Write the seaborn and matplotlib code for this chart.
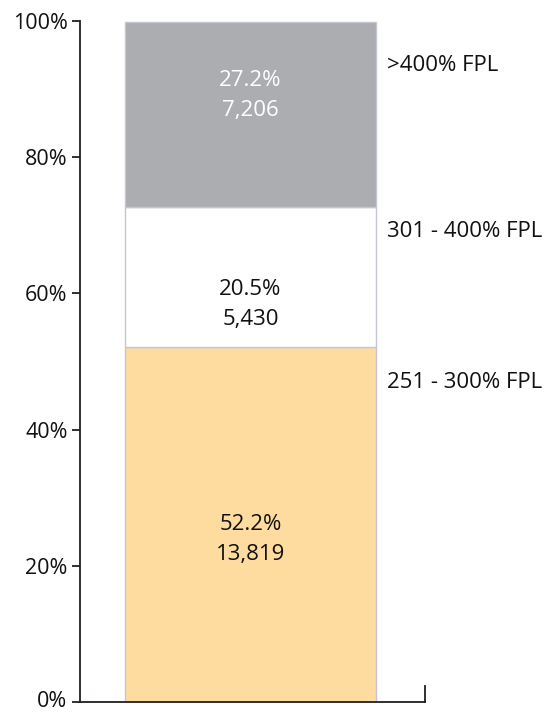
import matplotlib
matplotlib.use("Agg")
import matplotlib.pyplot as plt
import matplotlib.transforms as mtransforms
import seaborn as sns
import pandas as pd
import numpy as np

groups = ["251 - 300% FPL", "301 - 400% FPL", ">400% FPL"]
shares = [52.2, 20.5, 27.2]
counts = ["13,819", "5,430", "7,206"]
colors = ["#fedca0", "#ffffff", "#acadb1"]
text_colors = ["#111111", "#111111", "#ffffff"]
label_y = [23.9, 58.4, 89.1]
side_y = [46.9, 69.1, 93.5]
yticks = [0, 20, 40, 60, 80, 100]
ytick_labels = ["0%", "20%", "40%", "60%", "80%", "100%"]

sns.set_theme(style="white")
plt.rcParams["font.family"] = ["Open Sans", "DejaVu Sans"]

fig = plt.figure(figsize=(5.54, 7.13), dpi=100)
ax = fig.add_axes([80 / 554, 11 / 713, 345 / 554, 681 / 713])

bottoms = np.concatenate([[0], np.cumsum(shares)[:-1]])
df = pd.DataFrame({"cat": ["all"] * len(groups), "share": shares, "group": groups})
for i, g in enumerate(groups):
    sub = df[df["group"] == g]
    sns.barplot(data=sub, x="cat", y="share", color=colors[i], width=0.8,
                bottom=bottoms[i], edgecolor="#c5c6d0", linewidth=1.0,
                saturation=1, ax=ax, errorbar=None)

for i, g in enumerate(groups):
    ax.text(0, label_y[i], f"{shares[i]:.1f}%\n{counts[i]}", ha="center", va="center",
            fontsize=16, color=text_colors[i], linespacing=1.55)
    ax.text(0.89, side_y[i], g, transform=ax.get_yaxis_transform(), ha="left",
            va="center", fontsize=16, color="#111111", clip_on=False)

total = 1.0997
ax.set_xlim(-0.494 * total, (1 - 0.494) * total)
ax.set_ylim(0, 100)
ax.set_yticks(yticks)
ax.set_yticklabels(ytick_labels)
ax.set_xticks([])
ax.set_xlabel("")
ax.set_ylabel("")
ax.tick_params(axis="y", left=True, length=6, width=1.3, color="#231f20", pad=3,
               labelsize=15.5, labelcolor="#111111")
for s in ["left", "bottom", "right"]:
    ax.spines[s].set_color("#231f20")
    ax.spines[s].set_linewidth(1.3)
ax.spines["top"].set_visible(False)
ax.spines["right"].set_bounds(0, 2.4)

# nudge the bottom tick label slightly up so it stays inside the canvas
lbl0 = ax.get_yticklabels()[0]
lbl0.set_transform(lbl0.get_transform() + mtransforms.ScaledTranslation(0, 3 / 100, fig.dpi_scale_trans))

fig.savefig("out.png", dpi=100)
